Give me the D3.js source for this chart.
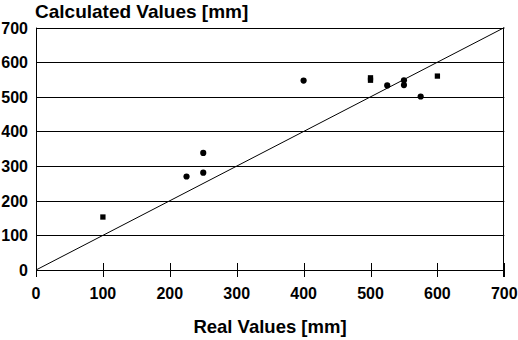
<!DOCTYPE html>
<html><head><meta charset="utf-8">
<script src="https://cdn.jsdelivr.net/npm/d3@7"></script>
<style>
body{margin:0;background:#fff;}
text{font-family:"Liberation Sans",Arial,sans-serif;font-weight:bold;fill:#000;}
</style></head>
<body><svg id="c" width="518" height="340"></svg>
<script>
const realValues = [100, 225, 250, 250, 400, 500, 500, 525, 550, 550, 575, 600];
const calcValues = [153, 270, 281, 338, 547, 555, 548, 533, 548, 534, 501, 560];
const markerShapes = ["sq","c","c","c","c","sq","sq","c","c","c","c","sq"];
const xTicks = [0,100,200,300,400,500,600,700];
const yTicks = [0,100,200,300,400,500,600,700];
const idealLine = [[0,0],[700,700]];

const svg = d3.select("#c");
const x = d3.scaleLinear().domain([0,700]).range([36,504.3]);
const y = d3.scaleLinear().domain([0,700]).range([270,27.6]);

// gridlines
svg.append("g").selectAll("line").data(yTicks).join("line")
  .attr("x1",x(0)).attr("x2",x(700))
  .attr("y1",d=>Math.round(y(d))+0.5).attr("y2",d=>Math.round(y(d))+0.5)
  .attr("stroke","#000").attr("stroke-width",1);

// left and right borders
svg.append("line").attr("x1",36.5).attr("x2",36.5).attr("y1",y(700)).attr("y2",y(0)+7).attr("stroke","#000");
svg.append("line").attr("x1",Math.round(x(700))-0.5).attr("x2",Math.round(x(700))-0.5).attr("y1",y(700)).attr("y2",y(0)+7).attr("stroke","#000");

// x ticks crossing the axis
svg.append("g").selectAll("line").data(xTicks).join("line")
  .attr("x1",d=>Math.round(x(d))+0.5).attr("x2",d=>Math.round(x(d))+0.5)
  .attr("y1",y(0)-7).attr("y2",y(0)+7).attr("stroke","#000");

// x tick labels
svg.append("g").selectAll("text").data(xTicks).join("text")
  .attr("x",d=>x(d)).attr("y",299).attr("text-anchor","middle")
  .attr("font-size",16).text(d=>d);

// y tick labels
svg.append("g").selectAll("text").data(yTicks).join("text")
  .attr("x",28).attr("y",d=>y(d)+6).attr("text-anchor","end")
  .attr("font-size",16).text(d=>d);

// ideal line
svg.append("path").datum(idealLine)
  .attr("d",d3.line().x(d=>x(d[0])).y(d=>y(d[1])))
  .attr("stroke","#000").attr("stroke-width",1).attr("fill","none");

// points
const pts = realValues.map((v,i)=>({x:v,y:calcValues[i],s:markerShapes[i]}));
svg.append("g").selectAll("path").data(pts).join("path")
  .attr("transform",d=>`translate(${x(d.x)},${y(d.y)})`)
  .attr("d",d=>d3.symbol().type(d.s==="sq"?d3.symbolSquare:d3.symbolCircle).size(d.s==="sq"?28:30)())
  .attr("fill","#000");

// axis titles
svg.append("text").attr("x",35).attr("y",18).attr("font-size",19).text("Calculated Values [mm]");
svg.append("text").attr("x",270).attr("y",333).attr("text-anchor","middle").attr("font-size",18.5).text("Real Values [mm]");
</script></body></html>
